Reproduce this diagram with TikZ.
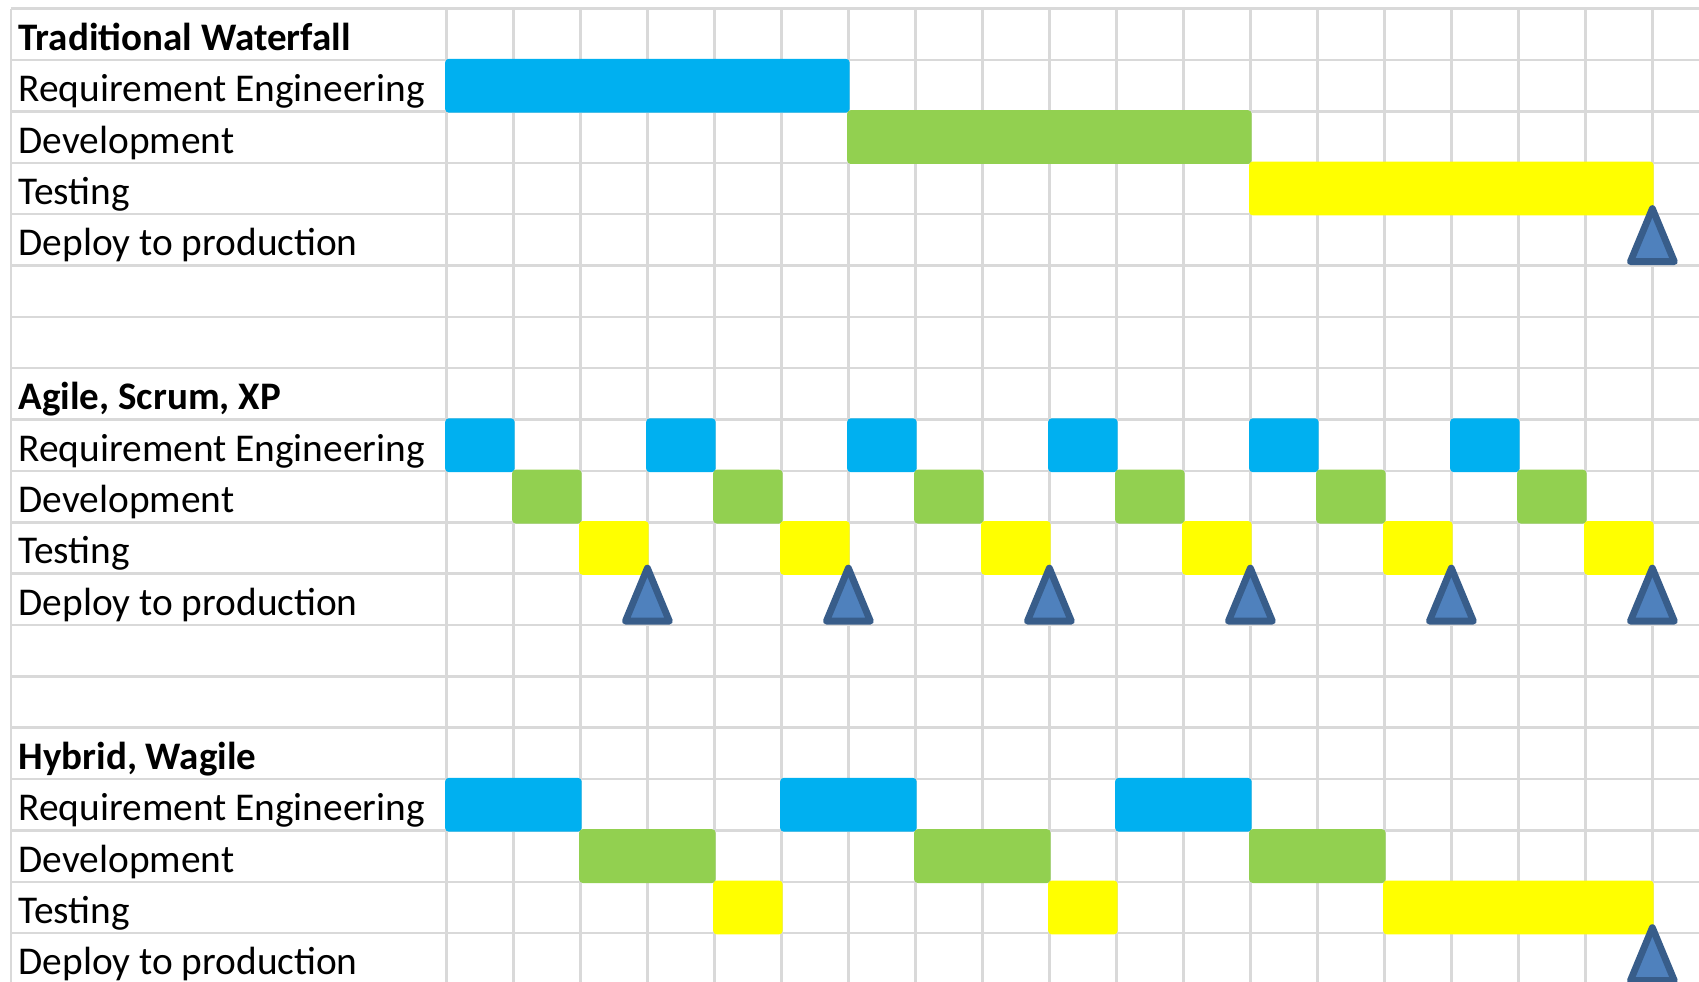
\documentclass[tikz,border=0pt]{standalone}
\usepackage{fontspec}
\setmainfont{Carlito}
\definecolor{gridgray}{HTML}{D9D9D9}
\definecolor{reqblue}{HTML}{00B0F0}
\definecolor{devgreen}{HTML}{92D050}
\definecolor{testyellow}{HTML}{FFFF00}
\definecolor{msfill}{HTML}{4F81BD}
\definecolor{msline}{HTML}{385D8A}

\begin{document}
\begin{tikzpicture}[x=1.34cm,y=-1.0272cm,
  cell/.style={draw=gridgray,line width=1.4pt},
  bar/.style={fill=#1,draw=#1,line width=1.4pt,rounded corners=1.5pt},
  rowlabel/.style={anchor=base west,inner sep=0pt,font=\fontsize{22.4}{26}\selectfont},
  heading/.style={rowlabel,font=\fontsize{22.2}{26}\selectfont\bfseries},
  milestone/.style={fill=msfill,draw=msline,line width=3.9pt,line join=round}]
\useasboundingbox (-6.663,-0.169) rectangle (18.696,18.951);

% sheet grid
\foreach \r in {0,...,18} \draw[cell] (-6.5,\r) -- (18.696,\r);
\draw[cell] (-6.5,0) -- (-6.5,18.951);
\foreach \c in {0,...,18} \draw[cell] (\c,0) -- (\c,18.951);

% row labels
\node[heading] (wf) at (-6.39,0.81) {Traditional Waterfall};
\node[heading] (ag) at (-6.39,7.81) {Agile, Scrum, XP};
\node[heading] (hy) at (-6.39,14.81) {Hybrid, Wagile};
\foreach \s/\n in {1/wf,8/ag,15/hy} {
  \node[rowlabel] (\n-req) at (-6.39,\s+0.81) {Requirement Engineering};
  \node[rowlabel] (\n-dev) at (-6.39,\s+1.81) {Development};
  \node[rowlabel] (\n-test) at (-6.39,\s+2.81) {Testing};
  \node[rowlabel] (\n-dep) at (-6.39,\s+3.81) {Deploy to production};
}

% waterfall
\path[bar=reqblue] (0,1) rectangle (6,2);
\path[bar=devgreen] (6,2) rectangle (12,3);
\path[bar=testyellow] (12,3) rectangle (18,4);

% agile sprints
\foreach \k in {0,...,5} {
  \path[bar=reqblue] (3*\k,8) rectangle (3*\k+1,9);
  \path[bar=devgreen] (3*\k+1,9) rectangle (3*\k+2,10);
  \path[bar=testyellow] (3*\k+2,10) rectangle (3*\k+3,11);
}

% hybrid
\path[bar=reqblue] (0,15) rectangle (2,16);
\path[bar=reqblue] (5,15) rectangle (7,16);
\path[bar=reqblue] (10,15) rectangle (12,16);
\path[bar=devgreen] (2,16) rectangle (4,17);
\path[bar=devgreen] (7,16) rectangle (9,17);
\path[bar=devgreen] (12,16) rectangle (14,17);
\path[bar=testyellow] (4,17) rectangle (5,18);
\path[bar=testyellow] (9,17) rectangle (10,18);
\path[bar=testyellow] (14,17) rectangle (18,18);

% releases
\foreach \c/\r in {18/4,3/11,6/11,9/11,12/11,15/11,18/11,18/18}
  \draw[milestone] (\c-0.328,\r+0.925) -- (\c,\r-0.107) -- (\c+0.328,\r+0.925) -- cycle;
\end{tikzpicture}
\end{document}
